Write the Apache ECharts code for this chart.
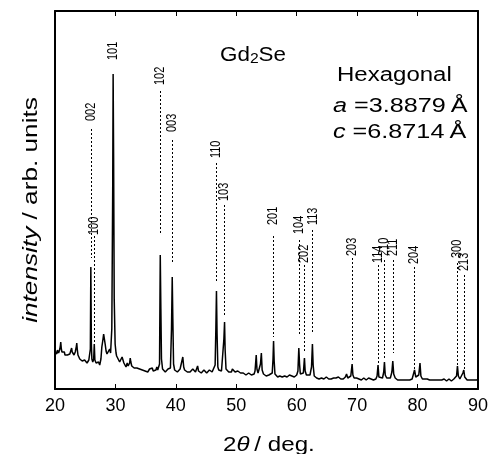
<!DOCTYPE html>
<html><head><meta charset="utf-8">
<script src="https://cdn.jsdelivr.net/npm/echarts@6/dist/echarts.min.js"></script>
<style>html,body{margin:0;padding:0;background:#fff}#c{width:491px;height:454px}</style>
</head><body><div id="c"></div>
<script>
// XRD pattern: [2theta (deg), intensity (arb. units)]
const xrdPattern = [
[20.0,38],[20.1,36],[20.2,38],[20.3,35],[20.4,39],[20.5,37],[20.6,36],[20.7,38],[20.8,40],[20.9,44],
[20.95,47],[21.05,40],[21.15,37],[21.25,38],[21.35,36],[21.45,35],[21.55,37],[21.65,34],[21.75,36],[21.85,33],
[21.95,35],[22.05,34],[22.15,36],[22.25,34],[22.35,36],[22.45,35],[22.55,37],[22.65,36],[22.75,41],[22.85,37],
[22.95,35],[23.05,36],[23.15,34],[23.25,35],[23.35,37],[23.45,39],[23.55,43],[23.6,46],[23.68,40],[23.8,34],
[23.9,33],[24.0,32],[24.1,30],[24.2,31],[24.3,29],[24.4,30],[24.5,28],[24.6,30],[24.7,29],[24.8,27],
[24.9,29],[25.0,28],[25.1,27],[25.2,28],[25.3,26],[25.4,28],[25.5,27],[25.6,29],[25.7,28],
[25.85,40],[25.93,122],[26.02,45],[26.1,30],[26.25,27],[26.4,30],[26.5,45],[26.6,29],
[26.7,27],[26.8,26],[26.9,27],[27.0,25],[27.1,26],[27.2,27],[27.3,25],[27.4,24],[27.5,27],[27.6,30],
[27.75,42],[27.9,48],[28.05,55],[28.15,56],[28.3,45],[28.45,38],[28.6,35],[28.75,36],[28.9,34],[29.05,40],
[29.2,36],[29.4,60],[29.55,200],[29.62,315],[29.7,230],[29.8,90],[29.95,45],
[30.1,36],[30.2,33],[30.3,34],[30.45,30],[30.6,31],[30.7,27],[30.85,29],[31.0,28],[31.1,32],[31.25,29],
[31.4,26],[31.55,27],[31.75,22],[31.85,24],[31.95,26],[32.1,23],[32.2,24],[32.35,26],[32.45,31],[32.55,27],
[32.7,23],[32.85,22],[33.0,23],[33.1,21],[33.25,22],[33.4,20],[33.55,21],[33.7,19],[33.85,21],[34.0,20],
[34.15,18],[34.3,20],[34.45,19],[34.6,21],[34.75,19],[34.9,18],[35.05,20],[35.2,19],[35.35,17],[35.5,19],
[35.65,20],[35.8,18],[35.95,19],[36.1,21],[36.25,18],[36.4,19],[36.55,17],[36.7,19],[36.85,22],[37.0,19],
[37.15,18],[37.3,25],[37.42,134],[37.52,80],[37.62,30],[37.8,20],[37.95,18],[38.1,19],[38.25,17],[38.4,19],
[38.55,18],[38.7,20],[38.85,18],[39.0,19],[39.1,21],[39.28,60],[39.4,112],[39.5,70],[39.62,25],
[39.8,19],[39.95,18],[40.1,19],[40.25,17],[40.4,19],[40.55,18],[40.7,20],[40.85,18],[41.0,20],[41.15,32],
[41.3,22],[41.45,19],[41.6,18],[41.75,20],[41.9,17],[42.05,19],[42.2,18],[42.35,17],[42.5,19],[42.65,18],
[42.8,20],[42.95,18],[43.1,19],[43.25,17],[43.4,19],[43.6,23],[43.75,18],[43.9,17],[44.05,18],[44.2,16],
[44.35,18],[44.5,17],[44.65,19],[44.8,17],[44.95,18],[45.1,16],[45.25,18],[45.4,17],[45.55,19],[45.7,17],
[45.85,18],[46.0,17],[46.15,19],[46.3,18],[46.5,24],[46.62,60],[46.72,98],[46.82,55],[46.95,22],
[47.1,19],[47.25,18],[47.4,19],[47.55,18],[47.7,19],[47.8,20],[47.95,50],[48.06,67],[48.15,40],
[48.3,20],[48.45,18],[48.6,19],[48.75,17],[48.9,19],[49.05,18],[49.2,17],[49.35,20],[49.5,18],[49.65,19],
[49.8,17],[49.95,18],[50.1,16],[50.25,18],[50.4,17],[50.55,18],[50.7,16],[50.85,18],[51.0,17],[51.15,16],
[51.3,15],[51.45,16],[51.6,14],[51.75,15],[51.9,14],[52.05,16],[52.2,15],[52.35,16],[52.5,14],[52.65,15],
[52.8,16],[52.95,15],[53.1,18],[53.18,24],[53.3,34],[53.42,20],
[53.6,16],[53.85,17],[54.0,25],[54.15,36],[54.28,19],[54.5,15],[54.65,14],[54.8,15],[54.95,13],[55.1,14],
[55.25,13],[55.4,14],[55.55,12],[55.7,13],[55.95,16],[56.08,30],[56.17,48],[56.27,28],[56.4,15],[56.55,13],
[56.7,14],[56.85,12],[57.0,14],[57.2,13],[57.4,14],[57.6,12],[57.8,14],[58.0,13],[58.2,14],[58.4,12],
[58.6,13],[58.8,14],[59.0,12],[59.2,13],[59.4,14],[59.6,12],[59.8,13],[60.0,14],[60.2,18],[60.35,41],[60.47,25],
[60.6,15],[60.85,14],[61.1,16],[61.28,31],[61.4,18],[61.6,14],[61.9,13],[62.2,14],[62.45,22],[62.6,45],
[62.72,24],[62.9,13],[63.1,12],[63.3,11],[63.5,12],[63.7,10],[63.9,12],[64.1,11],[64.3,12],[64.5,10],
[64.7,11],[64.9,12],[65.1,11],[65.3,10],[65.5,11],[65.7,10],[65.9,12],[66.1,11],[66.3,10],[66.5,11],
[66.7,10],[66.9,12],[67.1,11],[67.3,10],[67.5,11],[67.7,10],[67.9,11],[68.05,12],[68.25,15],
[68.45,11],[68.7,10],[68.95,13],[69.17,25],[69.3,14],[69.5,11],[69.7,10],[69.9,11],[70.1,9],[70.3,10],
[70.5,11],[70.7,9],[70.9,10],[71.1,11],[71.3,10],[71.5,9],[71.7,10],[71.9,11],[72.1,9],[72.3,10],
[72.5,11],[72.7,9],[72.9,10],[73.1,10],[73.3,13],[73.46,24],
[73.6,12],[73.9,10],[74.2,11],[74.4,17],[74.52,27],[74.65,14],[74.9,11],[75.2,10],[75.5,11],[75.75,17],
[75.9,28],[76.05,15],[76.3,11],[76.5,10],[76.7,9],[76.9,10],[77.1,9],[77.3,10],[77.5,9],[77.7,10],
[77.9,9],[78.1,10],[78.3,9],[78.5,10],[78.7,9],[78.9,10],[79.1,10],[79.3,12],[79.5,19],[79.7,12],
[79.9,11],[80.2,14],[80.4,26],[80.55,13],[80.8,10],
[81.0,9],[81.2,10],[81.4,9],[81.6,10],[81.8,8],[82.0,9],[82.2,10],[82.4,9],[82.6,8],[82.8,9],
[83.0,10],[83.2,9],[83.4,8],[83.6,9],[83.8,10],[84.0,9],[84.2,8],[84.4,10],[84.6,9],[84.8,8],
[85.0,9],[85.2,10],[85.4,9],[85.6,8],[85.8,9],[86.0,10],[86.2,9],[86.45,13],[86.6,23],
[86.75,13],[87.0,10],[87.3,11],[87.5,16],[87.65,19],[87.8,12],[88.0,10],[88.2,9],[88.4,10],[88.6,9],
[88.8,10],[89.0,9],[89.2,10],[89.4,9],[89.6,10],[89.8,9],[90.0,10]
];

// Reflection indices and their positions
const hklLabels     = ['002','100','101','102','003','110','103','201','104','202','113','203','114','210','211','204','300','213'];
const hklTwoTheta   = [25.93,26.5,29.62,37.46,39.4,46.72,48.06,56.17,60.35,61.28,62.64,69.17,73.46,74.52,75.9,79.5,86.6,87.65];
const hklLabelBase  = [268,154,329,304,257,231,188,164,155,126,164,133,126,133,133,125,131,118];
const hklLineTop    = [260,153,null,298,249,226,184,153,149,124,159,131,124,129,129,122,126,114];
const hklLineBottom = [131,46,null,154,127,107,72,52,55,36,56,27,26,31,36,19,24,19];

const xTicks = [20,30,40,50,60,70,80,90];

const FONT = '"Liberation Sans", Arial, sans-serif';

const markLines = [];
hklTwoTheta.forEach((x,i)=>{
  if (hklLineTop[i] != null) markLines.push([{coord:[x,hklLineTop[i]]},{coord:[x,hklLineBottom[i]]}]);
});
const labelPts = hklTwoTheta.map((x,i)=>[x, hklLabelBase[i]]);

const chart = echarts.init(document.getElementById('c'), null, {renderer:'canvas'});
const axisCommon = {
  type:'value', min:xTicks[0], max:xTicks[xTicks.length-1], interval:10,
  axisLine:{show:true, onZero:false, lineStyle:{color:'#000', width:2}},
  axisTick:{show:true, inside:true, length:5, lineStyle:{color:'#000', width:1}},
  splitLine:{show:false}
};
chart.setOption({
  animation:false,
  backgroundColor:'#fff',
  grid:{left:55, right:7, top:11, bottom:65, containLabel:false},
  xAxis:[
    Object.assign({}, axisCommon, {position:'bottom',
      axisLabel:{show:true, color:'#000', fontSize:18, fontFamily:FONT, margin:8}}),
    Object.assign({}, axisCommon, {position:'top', axisLabel:{show:false}})
  ],
  yAxis:[
    {type:'value', min:0, max:378, position:'left', axisLine:{show:true, onZero:false, lineStyle:{color:'#000', width:2}},
     axisTick:{show:false}, axisLabel:{show:false}, splitLine:{show:false}},
    {type:'value', min:0, max:378, position:'right', axisLine:{show:true, onZero:false, lineStyle:{color:'#000', width:2}},
     axisTick:{show:false}, axisLabel:{show:false}, splitLine:{show:false}}
  ],
  series:[
    {type:'line', data:xrdPattern, showSymbol:false, symbol:'none', xAxisIndex:0, yAxisIndex:0,
     lineStyle:{color:'#000', width:1.5}, z:3,
     markLine:{silent:true, symbol:['none','none'], animation:false,
       lineStyle:{color:'#000', width:1, type:[2,2]}, label:{show:false}, data:markLines}},
    {type:'custom', data:labelPts, xAxisIndex:0, yAxisIndex:0, clip:false, z:4,
     renderItem:(params, api)=>{
       const p = api.coord([api.value(0), api.value(1)]);
       return {type:'text', x:p[0], y:p[1], rotation:Math.PI/2, scaleX:0.78,
         style:{text:hklLabels[params.dataIndex], fontSize:14, fontFamily:FONT, fill:'#000',
           align:'left', verticalAlign:'middle'}};
     }}
  ],
  graphic:[
    {type:'text', left:220, top:45, scaleX:1.12, style:{text:'{n|Gd}{s|2}{n|Se}', fill:'#000',
      rich:{n:{fontSize:20, fontFamily:FONT, fill:'#000'}, s:{fontSize:14, fontFamily:FONT, fill:'#000', padding:[8,0,0,0]}}}},
    {type:'text', left:337, top:65, scaleX:1.2, style:{text:'Hexagonal', fill:'#000', fontSize:20, fontFamily:FONT}},
    {type:'text', left:333, top:96, scaleX:1.26, style:{text:'{i|a}{n| =3.8879\u2009Å}', fill:'#000',
      rich:{i:{fontSize:20, fontStyle:'italic', fontFamily:FONT, fill:'#000'}, n:{fontSize:20, fontFamily:FONT, fill:'#000'}}}},
    {type:'text', left:333, top:122, scaleX:1.26, style:{text:'{i|c}{n| =6.8714\u2009Å}', fill:'#000',
      rich:{i:{fontSize:20, fontStyle:'italic', fontFamily:FONT, fill:'#000'}, n:{fontSize:20, fontFamily:FONT, fill:'#000'}}}},
    {type:'text', left:223, top:435, scaleX:1.15, style:{text:'{n|2}{i|θ}{n|\u2009/ deg.}', fill:'#000',
      rich:{i:{fontSize:21, fontStyle:'italic', fontFamily:FONT, fill:'#000'}, n:{fontSize:21, fontFamily:FONT, fill:'#000'}}}},
    {type:'text', x:31, y:210, rotation:Math.PI/2, scaleX:1.31, style:{text:'{i|intensity}{n| / arb. units}', fill:'#000',
      align:'center', verticalAlign:'middle',
      rich:{i:{fontSize:20, fontStyle:'italic', fontFamily:FONT, fill:'#000'}, n:{fontSize:20, fontFamily:FONT, fill:'#000'}}}}
  ]
});
</script></body></html>
